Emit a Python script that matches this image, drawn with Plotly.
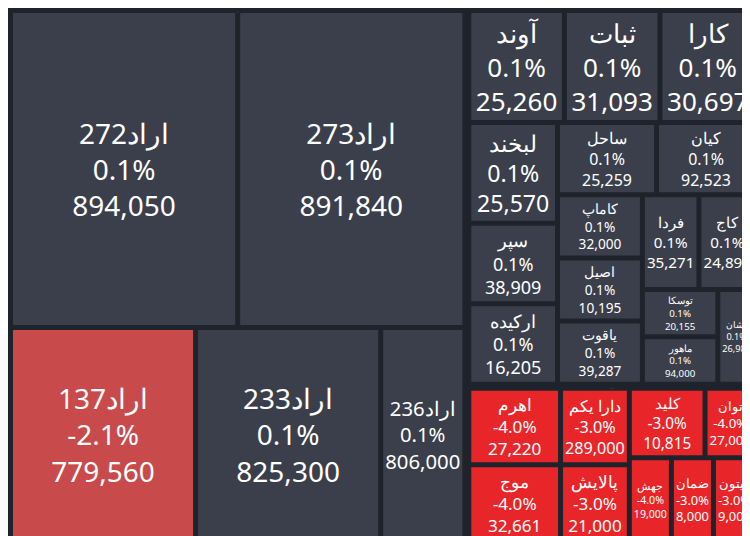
import plotly.graph_objects as go

# -------------------------
# data
# -------------------------
names = ["اراد272", "اراد273", "اراد137", "اراد233", "اراد236",
         "آوند", "ثبات", "کارا", "لبخند", "سپر", "ارکیده", "کاماپ", "اصیل",
         "ساحل", "یاقوت", "کیان", "فردا", "کاج", "توسکا", "ماهور", "نشان",
         "اهرم", "موج", "توان", "جهش", "دارا یکم", "پالایش", "کلید", "ضمان", "زیتون"]
changes = [0.1, 0.1, -2.1, 0.1, 0.1,
           0.1, 0.1, 0.1, 0.1, 0.1, 0.1, 0.1, 0.1,
           0.1, 0.1, 0.1, 0.1, 0.1, 0.1, 0.1, 0.1,
           -4.0, -4.0, -4.0, -4.0, -3.0, -3.0, -3.0, -3.0, -3.0]
prices = [894050, 891840, 779560, 825300, 806000,
          25260, 31093, 30697, 25570, 38909, 16205, 32000, 10195,
          25259, 39287, 92523, 35271, 24890, 20155, 94000, 26987,
          27220, 32661, 27000, 19000, 289000, 21000, 10815, 8000, 9000]
weights = [40, 40, 22, 22, 10,
           6, 6, 6, 5, 4, 4, 3, 3,
           4, 3, 4, 3, 3, 2, 2, 2,
           4, 4, 2, 2, 3, 3, 3, 2, 2]
groups = ["اوراق"] * 5 + ["صندوق"] * 16 + ["سهام"] * 9

labels = ["اوراق", "صندوق", "سهام"] + names
parents = ["", "", ""] + groups
values = [sum(w for w, g in zip(weights, groups) if g == k) for k in ["اوراق", "صندوق", "سهام"]] + weights


def tile_color(c):
    if c <= -3:
        return "#e8262a"
    if c < 0:
        return "#c94a4b"
    return "#3b3f4b"


colors = ["#1f232b"] * 3 + [tile_color(c) for c in changes]
texts = [""] * 3 + [f"{c:.1f}%<br>{p:,}" for c, p in zip(changes, prices)]

fig = go.Figure(go.Treemap(
    labels=labels,
    parents=parents,
    values=values,
    branchvalues="total",
    text=texts,
    texttemplate="%{label}<br>%{text}",
    textposition="middle center",
    marker=dict(colors=colors, line=dict(color="#1f232b", width=2), pad=dict(t=2, l=2, r=2, b=2)),
    tiling=dict(packing="squarify"),
    textfont=dict(family="Noto Sans", color="white", size=28),
    sort=True,
))

fig.update_layout(
    width=750, height=536,
    margin=dict(l=0, r=0, t=0, b=0),
    paper_bgcolor="#1f232b",
    uniformtext=dict(minsize=8),
)

fig.write_html("out.html")
